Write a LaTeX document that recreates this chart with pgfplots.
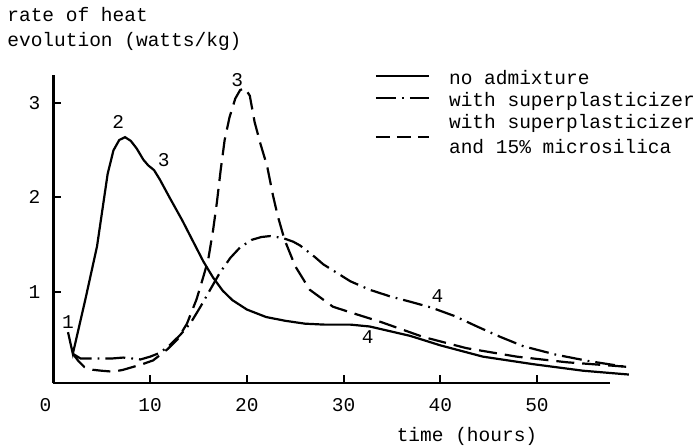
\documentclass[border=0pt]{standalone}
\usepackage{pgfplots}
\pgfplotsset{compat=1.18}
\usepackage{fontspec}
\setmainfont{Liberation Mono}
\newcommand{\tf}{\fontsize{9.75}{11}\selectfont}

\pgfplotstableread{
x y
1.5 0.57
2.0 0.34
3.3 0.92
4.5 1.48
5.1 1.90
5.6 2.25
6.2 2.50
6.8 2.61
7.4 2.64
8.0 2.60
8.6 2.52
9.3 2.40
9.8 2.34
10.4 2.29
11.0 2.19
12.0 2.00
13.3 1.76
14.5 1.52
15.5 1.32
16.5 1.15
17.5 1.01
18.5 0.91
20.0 0.81
22.0 0.73
24.0 0.69
26.0 0.66
28.0 0.65
30.7 0.65
32.7 0.63
34.8 0.58
36.9 0.53
40.0 0.43
44.4 0.31
49.6 0.23
54.8 0.16
59.5 0.12
}\noadmix

\pgfplotstableread{
x y
2.0 0.34
2.8 0.29
3.5 0.29
5.0 0.29
6.0 0.29
7.2 0.30
8.2 0.29
9.0 0.28
10.0 0.31
11.0 0.35
12.0 0.43
13.1 0.54
14.2 0.67
15.2 0.84
16.2 1.02
17.2 1.20
18.3 1.36
19.3 1.47
20.5 1.55
21.5 1.58
22.4 1.59
23.7 1.57
24.8 1.53
25.5 1.49
27.0 1.37
27.9 1.29
30.7 1.11
32.7 1.02
34.8 0.95
37.0 0.89
39.1 0.83
41.5 0.74
43.8 0.63
46.2 0.52
48.6 0.42
52.0 0.33
55.5 0.26
59.3 0.20
}\superp

\pgfplotstableread{
x y
2.0 0.34
2.6 0.26
3.2 0.20
4.1 0.17
5.0 0.16
6.2 0.15
7.2 0.17
8.2 0.20
9.2 0.23
10.3 0.27
11.8 0.39
12.8 0.49
13.8 0.66
14.8 0.92
15.5 1.16
16.0 1.34
16.5 1.65
16.9 1.95
17.3 2.30
17.7 2.61
18.2 2.85
18.8 3.05
19.3 3.14
19.8 3.16
20.3 3.08
20.8 2.80
21.4 2.57
22.1 2.33
22.7 2.02
23.2 1.80
23.9 1.55
25.0 1.27
26.5 1.02
28.9 0.84
30.7 0.78
33.8 0.68
38.2 0.52
42.7 0.40
47.9 0.31
53.1 0.25
58.3 0.21
59.5 0.20
}\micro

\begin{document}
\begin{tikzpicture}[x=1pt,y=1pt]
\path[use as bounding box] (-26.75,-31.5) rectangle (321.25,191.5);
\begin{axis}[
  at={(0,0)}, anchor=south west,
  scale only axis, width=278pt, height=154pt,
  xmin=0, xmax=57.5, ymin=0.03, ymax=3.3,
  axis lines=left,
  axis line style={-, line width=1.2pt},
  tick align=inside,
  major tick length=4pt,
  tick style={line width=1pt, black},
  xtick={0,10,20,30,40,50},
  xticklabels={\makebox[0pt]{\kern-8pt 0},10,20,30,40,50},
  ytick={1,2,3},
  clip=false,
  /pgf/number format/assume math mode=true,
  ticklabel style={font=\tf},
  xticklabel style={yshift=-4pt},
  yticklabel style={xshift=-3pt},
  legend style={at={(0.578,1.017)}, anchor=north west, draw=none, fill=none,
    inner sep=0pt, outer sep=0pt, font=\tf, column sep=9.5pt, row sep=0pt,
    nodes={inner sep=0pt, text height=7.5pt, text depth=3.5pt}},
  legend cell align=left,
]
\addplot[black, line width=1.1pt, forget plot] table {\noadmix};
\addplot[black, line width=1.1pt, dash pattern=on 10pt off 3pt on 0.9pt off 3pt, forget plot] table {\superp};
\addplot[black, line width=1.1pt, dash pattern=on 9pt off 4pt, forget plot] table {\micro};

\addlegendimage{black, legend image code/.code={\draw[black, line width=1.1pt] (0pt,2.5pt) -- (26.5pt,2.5pt);}}
\addlegendentry{no admixture}
\addlegendimage{black, legend image code/.code={\draw[black, line width=1.1pt, dash pattern=on 10pt off 3pt on 0.9pt off 3pt] (0pt,2.5pt) -- (26.5pt,2.5pt);}}
\addlegendentry{with superplasticizer}
\addlegendimage{black, legend image code/.code={\draw[white, line width=0.1pt] (0pt,2.5pt) -- (26.5pt,2.5pt);}}
\addlegendentry{with superplasticizer}
\addlegendimage{black, legend image code/.code={\draw[black, line width=1.1pt, dash pattern=on 7pt off 3.5pt] (0pt,6.5pt) -- (26.5pt,6.5pt);}}
\addlegendentry{and 15\% microsilica}

\node[font=\tf] at (axis cs:1.5,0.68) {1};
\node[font=\tf] at (axis cs:6.7,2.80) {2};
\node[font=\tf] at (axis cs:11.4,2.40) {3};
\node[font=\tf] at (axis cs:19.0,3.25) {3};
\node[font=\tf] at (axis cs:39.7,0.95) {4};
\node[font=\tf] at (axis cs:32.5,0.52) {4};
\end{axis}
\node[font=\tf, anchor=base west, inner sep=0pt] at (-23.25,181) {rate of heat};
\node[font=\tf, anchor=base west, inner sep=0pt] at (-23.25,168.5) {evolution (watts/kg)};
\node[font=\tf, anchor=base, inner sep=0pt] at (206.75,-29) {time (hours)};
\end{tikzpicture}
\end{document}
